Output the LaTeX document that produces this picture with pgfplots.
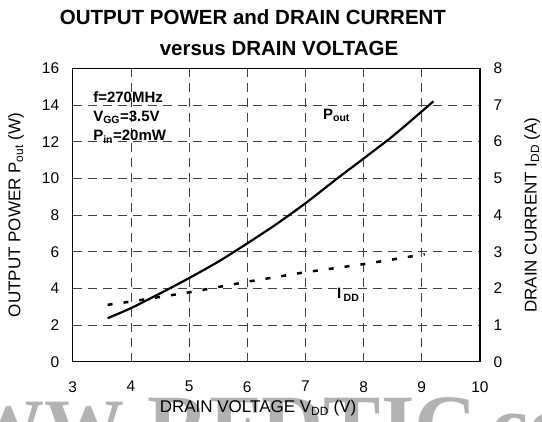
\documentclass[border=0pt]{standalone}
\usepackage{pgfplots}
\pgfplotsset{compat=1.18}
\usepackage{fontspec}
\setmainfont{Liberation Sans}
\newfontfamily\wmfont{Liberation Serif}
\begin{document}
\begin{tikzpicture}
% watermark
\begin{scope}
\clip (0pt,0pt) rectangle (542pt,422pt);
\node[anchor=base east, text=black!30, font=\wmfont\bfseries\fontsize{80}{80}\selectfont, inner sep=0] at (125pt,-33pt) {WW};
\node[anchor=base west, text=black!30, font=\wmfont\bfseries\fontsize{86}{86}\selectfont, inner sep=0] at (147pt,-33pt) {RFDTIC};
\node[anchor=base west, text=black!30, font=\wmfont\bfseries\fontsize{86}{86}\selectfont, inner sep=0] at (490pt,-33pt) {co};
\end{scope}
\begin{axis}[
  at={(72.7pt,60.3pt)}, anchor=south west,
  scale only axis, width=407.3pt, height=293.4pt,
  xmin=3, xmax=10, ymin=0, ymax=16,
  xtick={3,4,...,10}, ytick={0,2,...,16},
  grid=major,
  major grid style={black!75, line width=0.7pt, dash pattern=on 9pt off 6pt},
  major tick length=0pt,
  axis line style={line width=1.1pt},
  tick label style={font=\fontsize{15.5}{18}\selectfont},
  /pgf/number format/assume math mode=true,
  xticklabel style={yshift=-16pt},
  yticklabel style={xshift=-10pt},
  xlabel={DRAIN VOLTAGE V\textsubscript{DD} (V)},
  ylabel={OUTPUT POWER P\textsubscript{out} (W)},
  label style={font=\fontsize{17}{20}\selectfont},
  xlabel style={at={(axis description cs:0.455,-0.158)}, anchor=center},
  ylabel style={at={(axis description cs:-0.139,0.5)}, anchor=center},
  clip=false,
]
\addplot[black, line width=2.2pt, smooth, tension=0.5] coordinates {
  (3.6,2.37) (4,2.92) (4.5,3.72) (5,4.56) (5.5,5.45) (6,6.45) (6.5,7.5)
  (7,8.64) (7.55,10.0) (8,11.08) (8.5,12.3) (9,13.65) (9.2,14.2)
};
\node[anchor=west, font=\bfseries\fontsize{15}{17}\selectfont, inner sep=0] at (axis cs:3.35,14.43) {f=270MHz};
\node[anchor=west, font=\bfseries\fontsize{15}{17}\selectfont, inner sep=0] at (axis cs:3.35,13.34) {V\textsubscript{GG}=3.5V};
\node[anchor=west, font=\bfseries\fontsize{15}{17}\selectfont, inner sep=0] at (axis cs:3.35,12.25) {P\textsubscript{in}=20mW};
\node[anchor=west, font=\bfseries\fontsize{15}{17}\selectfont, inner sep=0] at (axis cs:7.30,13.45) {P\textsubscript{out}};
\node[anchor=west, font=\bfseries\fontsize{15}{17}\selectfont, inner sep=0] at (axis cs:7.54,3.64) {I\,\textsubscript{DD}};
\end{axis}
\begin{axis}[
  at={(72.7pt,60.3pt)}, anchor=south west,
  scale only axis, width=407.3pt, height=293.4pt,
  xmin=3, xmax=10, ymin=0, ymax=8,
  axis x line=none, axis y line*=right,
  ytick={0,1,...,8},
  major tick length=0pt,
  axis line style={line width=1.1pt},
  tick label style={font=\fontsize{15.5}{18}\selectfont},
  /pgf/number format/assume math mode=true,
  yticklabel style={xshift=10pt},
  ylabel={DRAIN CURRENT I\textsubscript{DD} (A)},
  label style={font=\fontsize{17}{20}\selectfont},
  ylabel style={at={(axis description cs:1.128,0.5)}, anchor=center},
  clip=false,
]
\addplot[black, line width=2.5pt, dash pattern=on 5pt off 11pt] coordinates {
  (3.6,1.55) (4,1.64) (5,1.89) (6,2.18) (7,2.44) (8,2.66) (9.05,2.93)
};
\end{axis}
\node[font=\bfseries\fontsize{20.5}{24}\selectfont] at (253pt,405pt) {OUTPUT POWER and DRAIN CURRENT};
\node[font=\bfseries\fontsize{20.5}{24}\selectfont] at (279pt,374pt) {versus DRAIN VOLTAGE};
\pgfresetboundingbox
\useasboundingbox (0pt,0pt) rectangle (542pt,422pt);
\end{tikzpicture}
\end{document}
